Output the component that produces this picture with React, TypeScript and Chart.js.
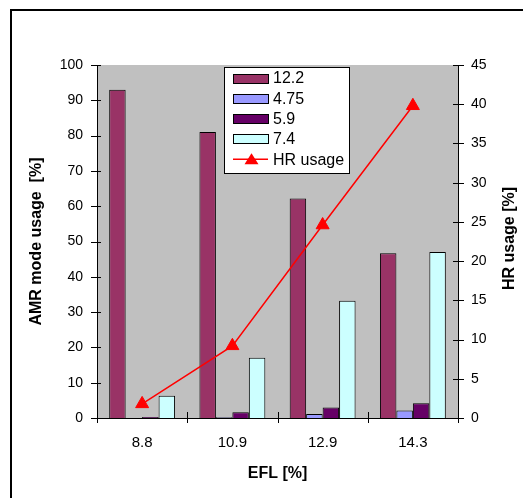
import React, { useEffect, useRef } from "react";
import { Chart, registerables } from "chart.js";

Chart.register(...registerables);

const categories = ["8.8", "10.9", "12.9", "14.3"];
const amr122 = [93, 81, 62.2, 46.7];
const amr475 = [0, 0.2, 1.1, 2.1];
const amr59 = [0.3, 1.6, 3.0, 4.2];
const amr74 = [6.3, 17.1, 33.2, 47.0];
const hrUsage = [1.8, 9.2, 24.6, 39.8];

const seriesNames = ["12.2", "4.75", "5.9", "7.4"];
const seriesColors = ["#993366", "#9999FF", "#660066", "#CCFFFF"];
const lineName = "HR usage";
const leftTitle = "AMR mode usage  [%]";
const rightTitle = "HR usage [%]";
const xTitle = "EFL [%]";

const FONT = "'Liberation Sans', Arial, sans-serif";

function drawTriangle(ctx: CanvasRenderingContext2D, x: number, y: number, w: number, h: number) {
  ctx.beginPath();
  ctx.moveTo(x, y - h / 2);
  ctx.lineTo(x + w / 2, y + h / 2);
  ctx.lineTo(x - w / 2, y + h / 2);
  ctx.closePath();
  ctx.fill();
}

const decorPlugin = {
  id: "decor",
  beforeDraw(chart: any) {
    const { ctx, chartArea: a } = chart;
    ctx.save();
    ctx.fillStyle = "#ffffff";
    ctx.fillRect(0, 0, chart.width, chart.height);
    ctx.fillStyle = "#C0C0C0";
    ctx.fillRect(a.left, a.top, a.right - a.left, a.bottom - a.top);
    ctx.strokeStyle = "#000";
    ctx.lineWidth = 2;
    ctx.beginPath();
    ctx.moveTo(11, chart.height);
    ctx.lineTo(11, 10);
    ctx.lineTo(chart.width, 10);
    ctx.stroke();
    ctx.restore();
  },
  afterDraw(chart: any) {
    const { ctx, chartArea: a, scales } = chart;
    ctx.save();
    ctx.strokeStyle = "#000";
    ctx.lineWidth = 1;
    // cross tick marks
    ctx.beginPath();
    scales.y.ticks.forEach((t: any) => {
      const py = Math.round(scales.y.getPixelForValue(t.value)) + 0.5;
      ctx.moveTo(a.left - 6, py);
      ctx.lineTo(a.left + 4, py);
    });
    scales.y1.ticks.forEach((t: any) => {
      const py = Math.round(scales.y1.getPixelForValue(t.value)) + 0.5;
      ctx.moveTo(a.right - 5, py);
      ctx.lineTo(a.right + 6, py);
    });
    const n = categories.length;
    for (let i = 0; i <= n; i++) {
      const px = Math.round(a.left + ((a.right - a.left) * i) / n) + 0.5;
      ctx.moveTo(px, a.bottom - 6);
      ctx.lineTo(px, a.bottom + 5);
    }
    ctx.stroke();

    // right axis title (reads bottom to top)
    ctx.fillStyle = "#000";
    ctx.font = `bold 16px ${FONT}`;
    ctx.textAlign = "center";
    ctx.textBaseline = "middle";
    ctx.translate(510, (a.top + a.bottom) / 2 - 3);
    ctx.rotate(-Math.PI / 2);
    ctx.fillText(rightTitle, 0, 0);
    ctx.restore();

    // legend
    ctx.save();
    const lx = 224, ly = 67, lw = 125, lh = 106;
    ctx.fillStyle = "#fff";
    ctx.fillRect(lx, ly, lw, lh);
    ctx.strokeStyle = "#000";
    ctx.lineWidth = 1;
    ctx.strokeRect(lx + 0.5, ly + 0.5, lw, lh);
    ctx.font = `16px ${FONT}`;
    ctx.textBaseline = "middle";
    ctx.textAlign = "left";
    const step = 20.3;
    seriesNames.forEach((name, i) => {
      const cy = 78 + i * step;
      ctx.fillStyle = seriesColors[i];
      ctx.fillRect(233, Math.round(cy - 4.5), 35, 9);
      ctx.strokeStyle = "#000";
      ctx.strokeRect(233.5, Math.round(cy - 4.5) + 0.5, 35, 9);
      ctx.fillStyle = "#000";
      ctx.fillText(name, 273, cy + 1);
    });
    const cy = 78 + 4 * step;
    ctx.strokeStyle = "#FF0000";
    ctx.lineWidth = 1.5;
    ctx.beginPath();
    ctx.moveTo(233, cy);
    ctx.lineTo(268, cy);
    ctx.stroke();
    ctx.fillStyle = "#FF0000";
    drawTriangle(ctx, 251.5, cy - 0.5, 14, 11);
    ctx.fillStyle = "#000";
    ctx.fillText(lineName, 273, cy + 1);
    ctx.restore();
  },
};

export default function App() {
  const ref = useRef<HTMLCanvasElement | null>(null);
  useEffect(() => {
    if (!ref.current) return;
    const barSets = [amr122, amr475, amr59, amr74].map((d, i) => ({
      type: "bar" as const,
      label: seriesNames[i],
      data: d,
      backgroundColor: seriesColors[i],
      borderColor: "#000",
      borderWidth: 1,
      barPercentage: 1,
      categoryPercentage: 0.73,
      yAxisID: "y",
      order: 2,
    }));
    const chart = new Chart(ref.current, {
      type: "bar",
      data: {
        labels: categories,
        datasets: [
          ...barSets,
          {
            type: "line" as const,
            label: lineName,
            data: hrUsage,
            borderColor: "#FF0000",
            borderWidth: 1.5,
            backgroundColor: "#FF0000",
            pointStyle: "triangle",
            pointRadius: 7.5,
            pointBorderWidth: 1,
            pointBackgroundColor: "#FF0000",
            pointBorderColor: "#FF0000",
            yAxisID: "y1",
            order: 0,
          } as any,
        ],
      },
      options: {
        animation: false,
        responsive: false,
        devicePixelRatio: 1,
        layout: { padding: { top: 65, left: 0, right: 0, bottom: 0 } },
        plugins: { legend: { display: false }, tooltip: { enabled: false } },
        scales: {
          x: {
            position: "bottom",
            grid: { display: false, drawTicks: false },
            border: { display: true, color: "#000", width: 1 },
            ticks: { color: "#000", font: { family: FONT, size: 15 }, padding: 16 },
            title: {
              display: true,
              text: xTitle,
              color: "#000",
              font: { family: FONT, size: 16, weight: "bold" },
              padding: { top: 0, bottom: 15 },
            },
            afterFit: (s: any) => { s.height = 80; },
          },
          y: {
            position: "left",
            min: 0,
            max: 100,
            ticks: { stepSize: 10, color: "#000", font: { family: FONT, size: 14 }, padding: 14 },
            grid: { display: false, drawTicks: false },
            border: { display: true, color: "#000", width: 1 },
            title: {
              display: true,
              text: leftTitle,
              color: "#000",
              font: { family: FONT, size: 16, weight: "bold" },
              padding: { top: 27, bottom: 0 },
            },
            afterFit: (s: any) => { s.width = 97; },
          },
          y1: {
            position: "right",
            min: 0,
            max: 45,
            ticks: { stepSize: 5, color: "#000", font: { family: FONT, size: 14 }, padding: 13 },
            grid: { display: false, drawTicks: false },
            border: { display: true, color: "#000", width: 1 },
            afterFit: (s: any) => { s.width = 65; },
          },
        },
      },
      plugins: [decorPlugin],
    } as any);
    return () => chart.destroy();
  }, []);
  return (
    <div style={{ position: "absolute", left: 0, top: 0, width: 523, height: 498 }}>
      <canvas ref={ref} width={523} height={498} style={{ display: "block" }} />
    </div>
  );
}
